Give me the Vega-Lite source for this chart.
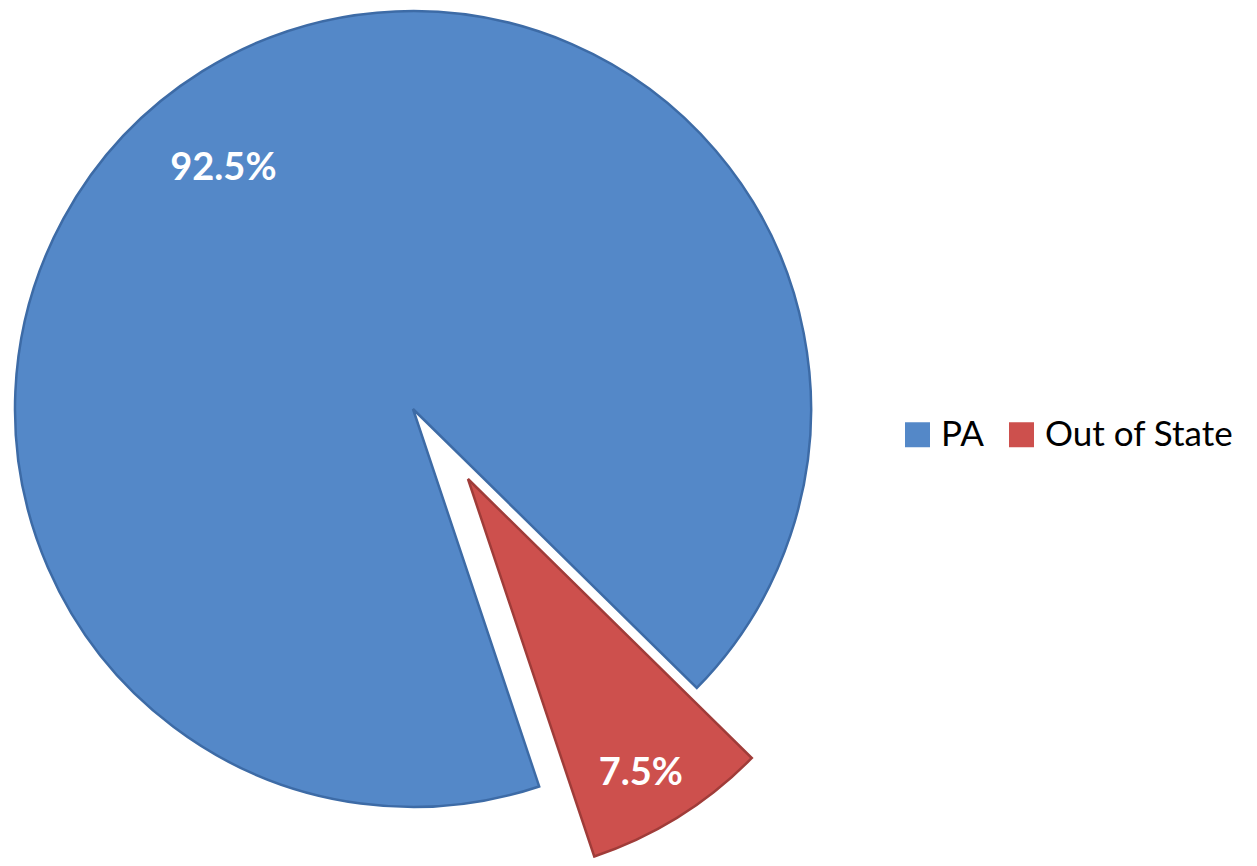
{
  "$schema": "https://vega.github.io/schema/vega-lite/v6.json",
  "width": 826,
  "height": 818,
  "autosize": {"type": "none"},
  "padding": {"left": 0, "top": 0, "right": 431, "bottom": 48},
  "background": "white",
  "config": {"view": {"stroke": null}},
  "data": {
    "values": [
      {"region": "PA", "share": 92.5, "label": "92.5%"},
      {"region": "Out of State", "share": 7.5, "label": "7.5%"}
    ]
  },
  "encoding": {
    "theta": {"field": "share", "type": "quantitative", "stack": true, "scale": {"domain": [0, 100], "range": [2.819, 9.102]}},
    "order": {"field": "region", "sort": "descending"},
    "color": {
      "field": "region",
      "type": "nominal",
      "scale": {"domain": ["PA", "Out of State"], "range": ["#5488C8", "#CD504D"]},
      "legend": {
        "orient": "none",
        "legendX": 900,
        "legendY": 417,
        "direction": "horizontal",
        "title": null,
        "symbolType": "square",
        "symbolSize": 625,
        "symbolStrokeWidth": 0,
        "symbolOpacity": 1,
        "labelFont": "Lato",
        "labelFontSize": 35,
        "labelFontWeight": "normal",
        "labelColor": "#000000",
        "labelOffset": 6,
        "labelLimit": 400,
        "columnPadding": 20,
        "padding": 0
      }
    }
  },
  "layer": [
    {
      "mark": {
        "type": "arc",
        "outerRadius": 398,
        "xOffset": {"expr": "datum.region === 'Out of State' ? 55 : 0"},
        "yOffset": {"expr": "datum.region === 'Out of State' ? 70 : 0"},
        "stroke": {"expr": "datum.region === 'PA' ? '#3D6BA6' : '#A03C39'"},
        "strokeWidth": 2.5
      }
    },
    {
      "mark": {
        "type": "text",
        "font": "Lato",
        "fontWeight": "bold",
        "fontSize": 38,
        "align": "center",
        "baseline": "middle",
        "radius": {"expr": "datum.region === 'PA' ? 306 : 430"},
        "thetaOffset": {"expr": "datum.region === 'PA' ? -0.11 : 0"}
      },
      "encoding": {
        "text": {"field": "label"},
        "color": {"value": "white"}
      }
    }
  ]
}
